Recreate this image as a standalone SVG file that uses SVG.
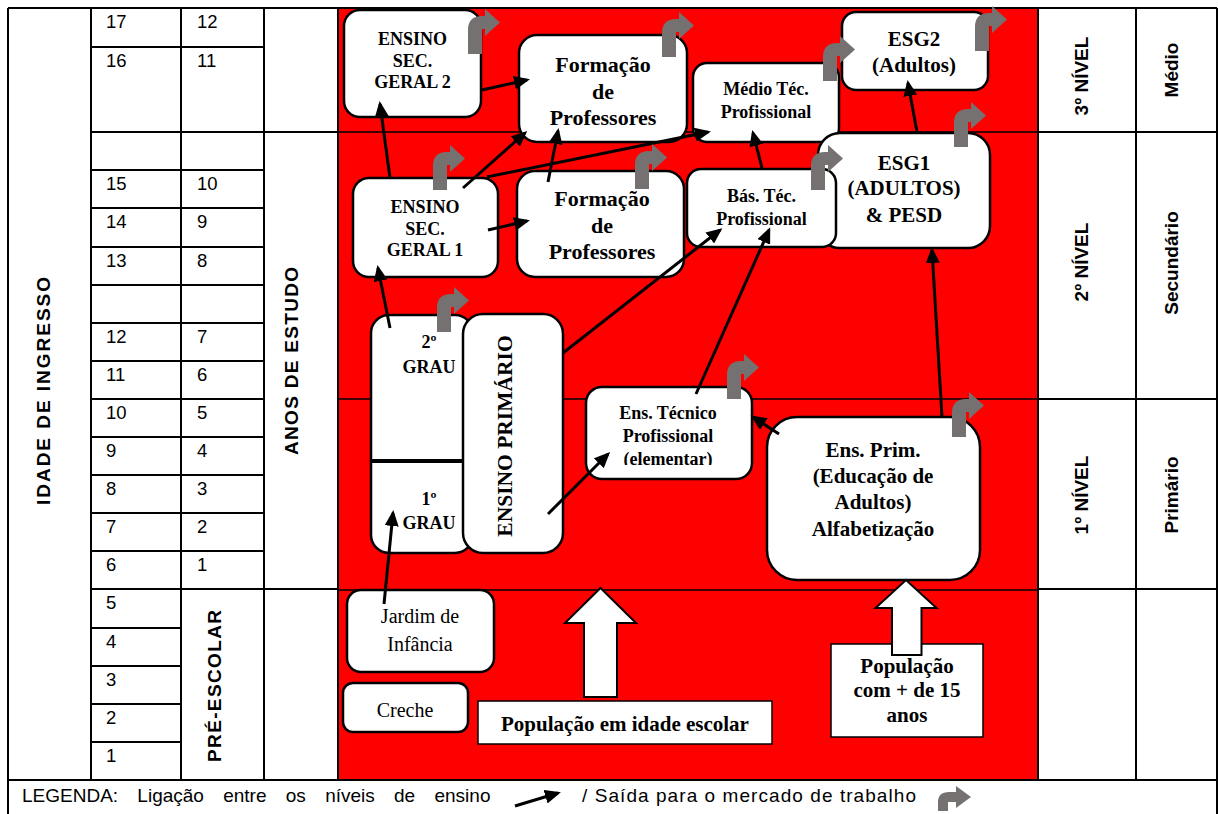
<svg xmlns="http://www.w3.org/2000/svg" width="1218" height="814" viewBox="0 0 1218 814">
<defs>
<style>
.tl{stroke:#000;stroke-width:2;fill:none}
.th{stroke:#000;stroke-width:1.5;fill:none}
.n{font-family:"Liberation Sans",Arial,sans-serif;font-size:18.5px;fill:#000}
.vl{font-family:"Liberation Sans",Arial,sans-serif;font-weight:bold;font-size:19px;text-anchor:middle;fill:#000}
.b{font-family:"Liberation Serif","Times New Roman",serif;font-weight:bold;text-anchor:middle;fill:#000}
.r{font-family:"Liberation Serif","Times New Roman",serif;text-anchor:middle;fill:#000}
.box{fill:#fff;stroke:#000;stroke-width:2.5}
.sq{fill:#fff;stroke:#000;stroke-width:1.5}
.blk{fill:#fff;stroke:#000;stroke-width:2}
.conn{stroke:#000;stroke-width:3;fill:none;marker-end:url(#ah)}
.exit{fill:#767171}
.lg{font-family:"Liberation Sans",Arial,sans-serif;font-size:19px;fill:#000}
</style>
<marker id="ah" markerUnits="userSpaceOnUse" markerWidth="16" markerHeight="14" refX="13" refY="7" orient="auto"><path d="M0,0 L16,7 L0,14 Z" fill="#000"/></marker>
<path id="ex" d="M0,0 V-24 Q0,-38 14,-38 H17 V-45 L32,-31.5 L17,-18 V-25 H14 V0 Z"/>
<clipPath id="clipTec"><rect x="586" y="387" width="166" height="78"/></clipPath>
</defs>

<g id="table">
<rect x="338" y="8" width="700" height="772" fill="#ff0000"/>
<path class="th" d="M338,132 H1038 M338,399 H1038 M338,590 H1038"/>
<path class="tl" d="M8,8 H1217 M8,780 H1217 M8,8 V814 M1217,8 V814 M91,8 V780 M181,8 V780 M264,8 V780 M338,8 V780 M1038,8 V780 M1136,8 V780"/>
<path class="tl" d="M91,47 H264 M91,132 H264 M91,170 H264 M91,208 H264 M91,247 H264 M91,285 H264 M91,323 H264 M91,361 H264 M91,399 H264 M91,437 H264 M91,475 H264 M91,513 H264 M91,551 H264 M91,589 H264 M91,628 H181 M91,666 H181 M91,704 H181 M91,742 H181 M264,132 H338 M264,589 H338 M1038,132 H1217 M1038,399 H1217 M1038,589 H1217"/>
<g class="n">
<text x="106" y="28">17</text><text x="197" y="28">12</text>
<text x="106" y="67">16</text><text x="197" y="67">11</text>
<text x="106" y="190">15</text><text x="197" y="190">10</text>
<text x="106" y="228">14</text><text x="197" y="228">9</text>
<text x="106" y="267">13</text><text x="197" y="267">8</text>
<text x="106" y="343">12</text><text x="197" y="343">7</text>
<text x="106" y="381">11</text><text x="197" y="381">6</text>
<text x="106" y="419">10</text><text x="197" y="419">5</text>
<text x="106" y="457">9</text><text x="197" y="457">4</text>
<text x="106" y="495">8</text><text x="197" y="495">3</text>
<text x="106" y="533">7</text><text x="197" y="533">2</text>
<text x="106" y="571">6</text><text x="197" y="571">1</text>
<text x="106" y="609">5</text>
<text x="106" y="648">4</text>
<text x="106" y="686">3</text>
<text x="106" y="724">2</text>
<text x="106" y="762">1</text>
</g>
<text class="vl" transform="translate(50,391) rotate(-90)" textLength="228" lengthAdjust="spacing">IDADE DE INGRESSO</text>
<text class="vl" transform="translate(298,361) rotate(-90)" textLength="188" lengthAdjust="spacing">ANOS DE ESTUDO</text>
<text class="vl" transform="translate(221,686) rotate(-90)" textLength="152" lengthAdjust="spacing">PRÉ-ESCOLAR</text>
<text class="vl" font-size="18" transform="translate(1088,76) rotate(-90)">3º NÍVEL</text>
<text class="vl" font-size="18" transform="translate(1088,262) rotate(-90)">2º NÍVEL</text>
<text class="vl" font-size="18" transform="translate(1088,495) rotate(-90)">1º NÍVEL</text>
<text class="vl" transform="translate(1178,70) rotate(-90)">Médio</text>
<text class="vl" transform="translate(1178,263) rotate(-90)">Secundário</text>
<text class="vl" transform="translate(1178,495) rotate(-90)">Primário</text>
</g>

<g id="ensino-sec-geral-2">
<rect class="box" x="344" y="10" width="137" height="107" rx="16"/>
<text class="b" font-size="18" x="412.5" y="45">ENSINO</text>
<text class="b" font-size="18" x="412.5" y="66.5">SEC.</text>
<text class="b" font-size="18" x="412.5" y="88">GERAL 2</text>
</g>
<g id="formacao-professores-3">
<rect class="box" x="519" y="35" width="168" height="107" rx="18"/>
<text class="b" font-size="22" x="603" y="72">Formação</text>
<text class="b" font-size="22" x="603" y="98.5">de</text>
<text class="b" font-size="22" x="603" y="125">Professores</text>
</g>
<g id="ensino-sec-geral-1">
<rect class="box" x="353" y="178" width="145" height="99" rx="16"/>
<text class="b" font-size="18" x="425" y="213">ENSINO</text>
<text class="b" font-size="18" x="425" y="234.5">SEC.</text>
<text class="b" font-size="18" x="425" y="256">GERAL 1</text>
</g>
<g id="formacao-professores-2">
<rect class="box" x="517" y="171" width="167" height="106" rx="18"/>
<text class="b" font-size="22" x="602" y="206">Formação</text>
<text class="b" font-size="22" x="602" y="232.5">de</text>
<text class="b" font-size="22" x="602" y="259">Professores</text>
</g>
<g id="medio-tec-profissional">
<rect class="box" x="693" y="63" width="146" height="79" rx="14"/>
<text class="b" font-size="18" x="766" y="95">Médio Téc.</text>
<text class="b" font-size="18" x="766" y="118">Profissional</text>
</g>
<g id="esg2-adultos">
<rect class="box" x="842" y="12" width="146" height="78" rx="14"/>
<text class="b" font-size="21" x="914" y="46">ESG2</text>
<text class="b" font-size="21" x="914" y="72">(Adultos)</text>
</g>
<g id="esg1-adultos-pesd">
<rect class="box" x="818" y="133" width="172" height="115" rx="22"/>
<text class="b" font-size="21" x="904" y="170">ESG1</text>
<text class="b" font-size="21" x="904" y="195">(ADULTOS)</text>
<text class="b" font-size="21" x="904" y="222">&amp; PESD</text>
</g>
<g id="bas-tec-profissional">
<rect class="box" x="687" y="169" width="149" height="78" rx="14"/>
<text class="b" font-size="18" x="761.5" y="202">Bás. Téc.</text>
<text class="b" font-size="18" x="761.5" y="225">Profissional</text>
</g>
<g id="grau">
<rect class="box" x="371" y="315" width="102" height="238" rx="18"/>
<path d="M371,461 H465" stroke="#000" stroke-width="4"/>
<text class="b" font-size="18" x="429" y="348">2º</text>
<text class="b" font-size="18" x="429" y="373">GRAU</text>
<text class="b" font-size="18" x="429" y="505">1º</text>
<text class="b" font-size="18" x="429" y="529">GRAU</text>
</g>
<g id="ensino-primario">
<rect class="box" x="463" y="314" width="100" height="239" rx="20"/>
<text class="b" font-size="21.5" transform="translate(512,436) rotate(-90)">ENSINO PRIMÁRIO</text>
</g>
<g id="ens-tecnico-profissional">
<rect class="box" x="586" y="387" width="166" height="92" rx="16"/>
<g clip-path="url(#clipTec)">
<text class="b" font-size="18" x="668" y="419">Ens. Técnico</text>
<text class="b" font-size="18" x="668" y="442">Profissional</text>
<text class="b" font-size="18" x="668" y="465">(elementar)</text>
</g>
</g>
<g id="ens-prim-adultos">
<rect class="box" x="767" y="417" width="213" height="163" rx="30"/>
<text class="b" font-size="21" x="873" y="457">Ens. Prim.</text>
<text class="b" font-size="21" x="873" y="483">(Educação de</text>
<text class="b" font-size="21" x="873" y="509">Adultos)</text>
<text class="b" font-size="21" x="873" y="536">Alfabetização</text>
</g>
<g id="jardim-de-infancia">
<rect class="box" x="347" y="590" width="147" height="82" rx="14"/>
<text class="r" font-size="20" x="420" y="623">Jardim de</text>
<text class="r" font-size="20" x="420" y="651">Infância</text>
</g>
<g id="creche">
<rect class="box" x="343" y="683" width="125" height="49" rx="10"/>
<text class="r" font-size="20" x="405" y="717">Creche</text>
</g>
<g id="populacao-escolar">
<rect class="sq" x="478" y="701" width="294" height="43"/>
<text class="b" font-size="21" x="625" y="731">População em idade escolar</text>
<polygon class="blk" points="584,697 584,623 565,623 600.5,588 636,623 617,623 617,697"/>
</g>
<g id="populacao-15">
<rect class="sq" x="831" y="644" width="152" height="93"/>
<text class="b" font-size="21" x="907" y="673">População</text>
<text class="b" font-size="21" x="907" y="697">com + de 15</text>
<text class="b" font-size="21" x="907" y="722">anos</text>
<polygon class="blk" points="892,655 892,608 875.5,608 906,580 936.5,608 921.5,608 921.5,655"/>
</g>

<g id="connectors">
<line class="conn" x1="390" y1="178" x2="380" y2="104"/>
<line class="conn" x1="482" y1="90" x2="527" y2="80"/>
<line class="conn" x1="463" y1="188" x2="525" y2="133"/>
<line class="conn" x1="487" y1="177" x2="708" y2="132"/>
<line class="conn" x1="548" y1="182" x2="558" y2="131"/>
<line class="conn" x1="488" y1="230" x2="527" y2="221"/>
<line class="conn" x1="390" y1="328" x2="378" y2="268"/>
<line class="conn" x1="384" y1="604" x2="393" y2="513"/>
<line class="conn" x1="548" y1="514" x2="608" y2="454"/>
<line class="conn" x1="563" y1="353" x2="720" y2="230"/>
<line class="conn" x1="696" y1="394" x2="769" y2="230"/>
<line class="conn" x1="779" y1="434" x2="753" y2="417"/>
<line class="conn" x1="942" y1="417" x2="932" y2="250"/>
<line class="conn" x1="762" y1="168" x2="753" y2="133"/>
<line class="conn" x1="917" y1="132" x2="908" y2="83"/>
</g>

<g id="exits" class="exit">
<use href="#ex" transform="translate(468,54)"/>
<use href="#ex" transform="translate(662,57)"/>
<use href="#ex" transform="translate(433,190)"/>
<use href="#ex" transform="translate(635,189)"/>
<use href="#ex" transform="translate(823,81)"/>
<use href="#ex" transform="translate(975,51)"/>
<use href="#ex" transform="translate(954,147)"/>
<use href="#ex" transform="translate(811,190)"/>
<use href="#ex" transform="translate(437,332)"/>
<use href="#ex" transform="translate(727,399)"/>
<use href="#ex" transform="translate(952,437)"/>
</g>

<g id="legend">
<text class="lg" x="22" y="802" word-spacing="14">LEGENDA: Ligação entre os níveis de ensino</text>
<line class="conn" x1="515" y1="806" x2="558" y2="793"/>
<text class="lg" x="582" y="802" textLength="334" lengthAdjust="spacing">/ Saída para o mercado de trabalho</text>
<path class="exit" transform="translate(938,811)" d="M0,0 V-9 Q0,-19 11,-19 H18 V-25 L33,-14 L18,-3 V-9 H10 V0 Z"/>
</g>
</svg>
